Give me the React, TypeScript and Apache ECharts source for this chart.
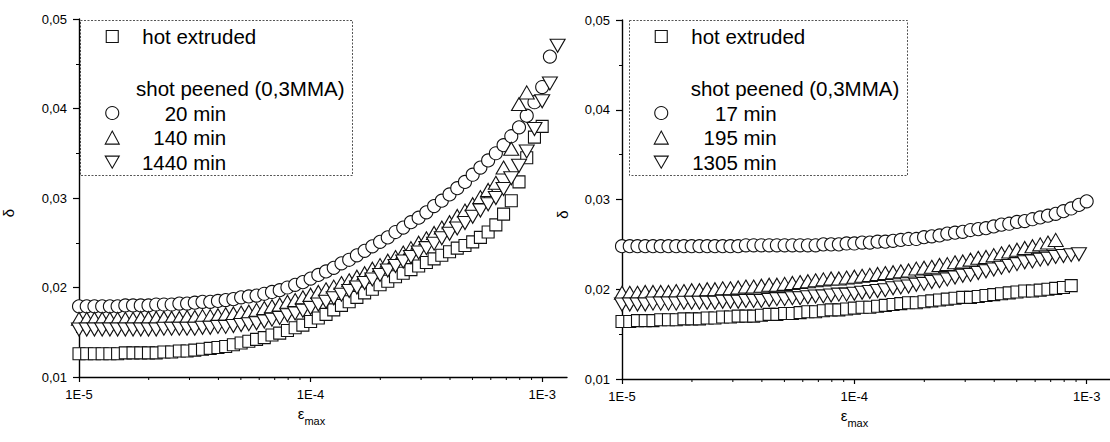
import React, { useEffect, useRef } from 'react';
import * as echarts from 'echarts';

// strain amplitude grid (log-spaced measurement steps)
const STRAIN = [
  1.0e-5, 1.0798e-5, 1.1659e-5, 1.2589e-5, 1.3594e-5, 1.4678e-5, 1.5849e-5, 1.7113e-5, 1.8478e-5, 1.9953e-5,
  2.1544e-5, 2.3263e-5, 2.5119e-5, 2.7123e-5, 2.9286e-5, 3.1623e-5, 3.4145e-5, 3.6869e-5, 3.9811e-5, 4.2987e-5,
  4.6416e-5, 5.0119e-5, 5.4117e-5, 5.8434e-5, 6.3096e-5, 6.8129e-5, 7.3564e-5, 7.9433e-5, 8.577e-5, 9.2612e-5,
  1.0e-4, 1.0798e-4, 1.1659e-4, 1.2589e-4, 1.3594e-4, 1.4678e-4, 1.5849e-4, 1.7113e-4, 1.8478e-4, 1.9953e-4,
  2.1544e-4, 2.3263e-4, 2.5119e-4, 2.7123e-4, 2.9286e-4, 3.1623e-4, 3.4145e-4, 3.6869e-4, 3.9811e-4, 4.2987e-4,
  4.6416e-4, 5.0119e-4, 5.4117e-4, 5.8434e-4, 6.3096e-4, 6.8129e-4, 7.3564e-4, 7.9433e-4, 8.577e-4, 9.2612e-4,
  1.0e-3, 1.0798e-3, 1.1659e-3,
];

// left panel
const LEFT_HOT = [
  0.0126, 0.0126, 0.0126, 0.0126, 0.0126, 0.0126, 0.0127, 0.0127, 0.0127, 0.0127,
  0.0127, 0.0128, 0.0128, 0.0129, 0.0129, 0.013, 0.0131, 0.0132, 0.0133, 0.0134,
  0.0136, 0.0138, 0.014, 0.0142, 0.0144, 0.0147, 0.0149, 0.0152, 0.0155, 0.0158,
  0.0162, 0.0166, 0.017, 0.0175, 0.018, 0.0184, 0.0189, 0.0194, 0.0198, 0.0203,
  0.0207, 0.0212, 0.0216, 0.022, 0.0224, 0.0228, 0.0232, 0.0236, 0.024, 0.0244,
  0.0247, 0.0251, 0.0256, 0.0262, 0.027, 0.0282, 0.0297, 0.0318, 0.0345, 0.0368,
  0.038,
];
const LEFT_20 = [
  0.0179, 0.0179, 0.0179, 0.0179, 0.0179, 0.0179, 0.018, 0.018, 0.018, 0.018,
  0.0181, 0.0181, 0.0181, 0.0182, 0.0182, 0.0183, 0.0184, 0.0184, 0.0185, 0.0186,
  0.0187, 0.0189, 0.019, 0.0191, 0.0193, 0.0195, 0.0197, 0.02, 0.0203, 0.0206,
  0.021, 0.0214, 0.0218, 0.0222, 0.0227, 0.0231, 0.0236, 0.0241, 0.0246, 0.0251,
  0.0256, 0.0262, 0.0267, 0.0273, 0.0278, 0.0284, 0.0291, 0.0297, 0.0304, 0.0311,
  0.0318, 0.0326, 0.0334, 0.0342, 0.035, 0.0359, 0.0369, 0.0379, 0.0392, 0.0407,
  0.0424, 0.0458,
];
const LEFT_140 = [
  0.0165, 0.0165, 0.0165, 0.0165, 0.0165, 0.0165, 0.0165, 0.0165, 0.0166, 0.0166,
  0.0166, 0.0166, 0.0166, 0.0166, 0.0167, 0.0167, 0.0168, 0.0168, 0.0169, 0.017,
  0.0171, 0.0172, 0.0173, 0.0175, 0.0177, 0.0179, 0.0181, 0.0184, 0.0186, 0.0189,
  0.0192, 0.0195, 0.0198, 0.0201, 0.0205, 0.0208, 0.0212, 0.0216, 0.0221, 0.0225,
  0.023, 0.0234, 0.0239, 0.0244, 0.025, 0.0255, 0.0261, 0.0267, 0.0273, 0.028,
  0.0286, 0.0293, 0.0301, 0.0309, 0.0317, 0.0334, 0.0355, 0.0405, 0.0418,
];
const LEFT_1440 = [
  0.0153, 0.0153, 0.0153, 0.0153, 0.0153, 0.0153, 0.0153, 0.0153, 0.0153, 0.0153,
  0.0153, 0.0154, 0.0154, 0.0154, 0.0154, 0.0154, 0.0155, 0.0155, 0.0156, 0.0156,
  0.0157, 0.0158, 0.0159, 0.016, 0.0162, 0.0164, 0.0166, 0.0169, 0.0171, 0.0174,
  0.0177, 0.0181, 0.0184, 0.0188, 0.0192, 0.0196, 0.02, 0.0205, 0.0209, 0.0214,
  0.0219, 0.0224, 0.0229, 0.0234, 0.0239, 0.0244, 0.0249, 0.0255, 0.026, 0.0266,
  0.0272, 0.0279, 0.0286, 0.0293, 0.03, 0.031, 0.0322, 0.0336, 0.0352, 0.0377,
  0.0408, 0.0428, 0.047,
];

// right panel
const RIGHT_HOT = [
  0.0164, 0.0164, 0.0165, 0.0165, 0.0165, 0.0166, 0.0166, 0.0166, 0.0167, 0.0167,
  0.0167, 0.0168, 0.0168, 0.0169, 0.0169, 0.017, 0.017, 0.017, 0.0171, 0.0172,
  0.0172, 0.0173, 0.0173, 0.0174, 0.0175, 0.0175, 0.0176, 0.0177, 0.0177, 0.0178,
  0.0179, 0.018, 0.018, 0.0181, 0.0182, 0.0183, 0.0184, 0.0185, 0.0185, 0.0186,
  0.0187, 0.0188, 0.0189, 0.019, 0.0191, 0.0191, 0.0192, 0.0193, 0.0194, 0.0195,
  0.0196, 0.0197, 0.0198, 0.0198, 0.0199, 0.02, 0.0201, 0.0202, 0.0204,
];
const RIGHT_17 = [
  0.0248, 0.0248, 0.0248, 0.0248, 0.0248, 0.0248, 0.0248, 0.0248, 0.0248, 0.0248,
  0.0248, 0.0248, 0.0248, 0.0248, 0.0248, 0.0248, 0.0249, 0.0249, 0.0249, 0.0249,
  0.0249, 0.0249, 0.0249, 0.0249, 0.0249, 0.0249, 0.025, 0.025, 0.025, 0.0251,
  0.0251, 0.0252, 0.0252, 0.0253, 0.0253, 0.0254, 0.0255, 0.0256, 0.0256, 0.0258,
  0.0259, 0.026, 0.0262, 0.0263, 0.0264, 0.0266, 0.0267, 0.0268, 0.027, 0.0272,
  0.0273, 0.0275, 0.0276, 0.0278, 0.028, 0.0282, 0.0284, 0.0287, 0.029, 0.0294,
  0.0298,
];
const RIGHT_195 = [
  0.0196, 0.0196, 0.0196, 0.0197, 0.0197, 0.0197, 0.0197, 0.0198, 0.0198, 0.0199,
  0.0199, 0.02, 0.02, 0.0201, 0.0201, 0.0202, 0.0203, 0.0203, 0.0204, 0.0205,
  0.0205, 0.0206, 0.0207, 0.0208, 0.0209, 0.021, 0.0211, 0.0212, 0.0212, 0.0213,
  0.0214, 0.0215, 0.0216, 0.0217, 0.0218, 0.0219, 0.022, 0.0221, 0.0223, 0.0224,
  0.0225, 0.0227, 0.0228, 0.023, 0.0231, 0.0233, 0.0235, 0.0236, 0.0238, 0.024,
  0.0242, 0.0244, 0.0246, 0.0248, 0.025, 0.0252, 0.0255,
];
const RIGHT_1305 = [
  0.0183, 0.0183, 0.0183, 0.0183, 0.0184, 0.0184, 0.0184, 0.0184, 0.0185, 0.0185,
  0.0185, 0.0185, 0.0185, 0.0186, 0.0186, 0.0186, 0.0187, 0.0187, 0.0187, 0.0188,
  0.0189, 0.0189, 0.019, 0.019, 0.0191, 0.0192, 0.0192, 0.0193, 0.0194, 0.0194,
  0.0195, 0.0196, 0.0197, 0.0198, 0.0199, 0.0201, 0.0202, 0.0203, 0.0205, 0.0206,
  0.0208, 0.0209, 0.0211, 0.0213, 0.0215, 0.0216, 0.0218, 0.022, 0.0222, 0.0224,
  0.0226, 0.0228, 0.023, 0.0231, 0.0233, 0.0234, 0.0236, 0.0237, 0.0238, 0.0239,
];

const LEFT_NAMES = ['hot extruded', '20 min', '140 min', '1440 min'];
const RIGHT_NAMES = ['hot extruded', '17 min', '195 min', '1305 min'];
const HEADER = 'shot peened (0,3MMA)';
const X_MINOR = [
  2e-5, 3e-5, 4e-5, 5e-5, 6e-5, 7e-5, 8e-5, 9e-5,
  2e-4, 3e-4, 4e-4, 5e-4, 6e-4, 7e-4, 8e-4, 9e-4,
];
const Y_MIN = 0.01;
const Y_MAX = 0.05;
const Y_STEP = 0.01;
const X_MIN = 1e-5;

const FONT = '"Liberation Sans", Arial, Helvetica, sans-serif';
const LEG_FONT = 20.5;
const DOWN_TRI = 'path://M0,0 L10,0 L5,8.66 Z';

const pairs = (ys: number[]) => ys.map((y, i) => [STRAIN[i], y]);

const markerStyle = { color: '#ffffff', borderColor: '#111111', borderWidth: 1.1, opacity: 1 };

function scatter(name: string, ys: number[], idx: number, kind: string) {
  const base: any = {
    type: 'scatter',
    name,
    xAxisIndex: idx,
    yAxisIndex: idx,
    data: pairs(ys),
    itemStyle: markerStyle,
    silent: true,
    emphasis: { disabled: true },
  };
  if (kind === 'sq') { base.symbol = 'rect'; base.symbolSize = 12; }
  if (kind === 'ci') { base.symbol = 'circle'; base.symbolSize = 13; }
  if (kind === 'up') { base.symbol = 'triangle'; base.symbolSize = [15, 13]; }
  if (kind === 'dn') { base.symbol = 'triangle'; base.symbolSize = [15, 13]; base.symbolRotate = 180; }
  return base;
}

function minorTicks(idx: number) {
  return {
    type: 'custom',
    xAxisIndex: idx,
    yAxisIndex: idx,
    silent: true,
    clip: false,
    data: X_MINOR.map((v) => [v, Y_MIN]),
    renderItem: (_p: any, api: any) => {
      const pt = api.coord([api.value(0), api.value(1)]);
      return {
        type: 'line',
        shape: { x1: pt[0], y1: pt[1], x2: pt[0], y2: pt[1] + 3 },
        style: { stroke: '#000', lineWidth: 1 },
      };
    },
  };
}

function xAxis(idx: number, max: number) {
  return {
    type: 'log',
    logBase: 10,
    gridIndex: idx,
    min: X_MIN,
    max,
    axisLine: { show: true, lineStyle: { color: '#000', width: 1.4 } },
    axisTick: { show: true, length: 5, lineStyle: { color: '#000', width: 1.2 } },
    axisLabel: {
      color: '#000',
      fontSize: 13,
      fontFamily: FONT,
      margin: 11,
      showMaxLabel: false,
      formatter: (v: number) => {
        const e = Math.log10(v);
        const r = Math.round(e);
        return Math.abs(e - r) < 1e-6 ? '1E' + r : '';
      },
    },
    splitLine: { show: false },
    name: '{e|ε}{s|max}',
    nameLocation: 'middle',
    nameGap: 14,
    nameTextStyle: {
      padding: [0, 23, 0, 0],
      rich: {
        e: { fontSize: 15, fontFamily: FONT, color: '#000' },
        s: { fontSize: 11, fontFamily: FONT, color: '#000', padding: [16, 0, 0, 0] },
      },
    },
  };
}

function yAxis(idx: number, gap: number) {
  return {
    type: 'value',
    gridIndex: idx,
    min: Y_MIN,
    max: Y_MAX,
    interval: Y_STEP,
    axisLine: { show: true, lineStyle: { color: '#000', width: 1.4 } },
    axisTick: { show: true, length: 6, lineStyle: { color: '#000', width: 1.2 } },
    minorTick: { show: true, splitNumber: 2, length: 3, lineStyle: { color: '#000', width: 1 } },
    axisLabel: {
      color: '#000',
      fontSize: 13,
      fontFamily: FONT,
      margin: 12,
      formatter: (v: number) => v.toFixed(2).replace('.', ','),
    },
    splitLine: { show: false },
    name: 'δ',
    nameLocation: 'middle',
    nameRotate: 90,
    nameGap: gap,
    nameTextStyle: { fontSize: 15, fontFamily: FONT, color: '#000', padding: [0, 30, 0, 0] },
  };
}

// markerX: centre of the legend markers; textX: where the label text starts; rightX: right edge of min labels
function legends(markerX: number, textX: number, rightX: number, names: string[]) {
  const common = {
    orient: 'vertical',
    padding: 0,
    selectedMode: false,
    itemStyle: { color: '#fff', borderColor: '#111', borderWidth: 1.1 },
  };
  const w0 = 12;
  const w1 = 14;
  const left0 = markerX - w0 / 2;
  const left1 = markerX - w1 / 2;
  const pad0 = textX - (left0 + w0 + 5);
  const width1 = rightX - (left1 + w1 + 5);
  return [
    {
      ...common,
      data: [names[0]],
      left: left0,
      top: 26,
      itemWidth: w0,
      itemHeight: 12,
      itemGap: 0,
      formatter: (n: string) => `{h|${n}}`,
      textStyle: {
        rich: { h: { fontSize: LEG_FONT, fontFamily: FONT, color: '#000', lineHeight: 25, padding: [0, 0, 0, pad0] } },
      },
    },
    {
      ...common,
      data: [
        { name: names[1], icon: 'circle' },
        { name: names[2], icon: 'triangle' },
        { name: names[3], icon: DOWN_TRI },
      ],
      left: left1,
      top: 102.5,
      itemWidth: w1,
      itemHeight: 13,
      itemGap: 3.6,
      formatter: (n: string) => `{r|${n}}`,
      textStyle: {
        rich: { r: { width: width1, align: 'right', fontSize: LEG_FONT, fontFamily: FONT, color: '#000', lineHeight: 25 } },
      },
    },
  ];
}

export default function App() {
  const ref = useRef<HTMLDivElement>(null);
  useEffect(() => {
    if (!ref.current) return;
    const chart = echarts.init(ref.current, undefined, { renderer: 'svg' });
    chart.setOption({
      animation: false,
      backgroundColor: '#ffffff',
      textStyle: { fontFamily: FONT },
      grid: [
        { left: 78, top: 19, width: 489, height: 358 },
        { left: 622, top: 20, width: 488, height: 359 },
      ],
      xAxis: [xAxis(0, 1.28e-3), xAxis(1, 1.26e-3)],
      yAxis: [yAxis(0, 63), yAxis(1, 52)],
      legend: [
        ...legends(111.7, 141.7, 225.7, LEFT_NAMES),
        ...legends(660.7, 690.7, 776, RIGHT_NAMES),
      ],
      graphic: [
        { type: 'rect', shape: { x: 80.5, y: 20.5, width: 272, height: 155 }, style: { fill: 'none', stroke: '#555', lineWidth: 1, lineDash: [2, 1.5] } },
        { type: 'rect', shape: { x: 629.5, y: 20.5, width: 278, height: 155 }, style: { fill: 'none', stroke: '#555', lineWidth: 1, lineDash: [2, 1.5] } },
        { type: 'text', x: 136, y: 88.3, style: { text: HEADER, fontSize: LEG_FONT, fontFamily: FONT, fill: '#000', verticalAlign: 'middle', align: 'left' } },
        { type: 'text', x: 690.7, y: 88.3, style: { text: HEADER, fontSize: LEG_FONT, fontFamily: FONT, fill: '#000', verticalAlign: 'middle', align: 'left' } },
      ],
      series: [
        scatter(LEFT_NAMES[0], LEFT_HOT, 0, 'sq'),
        scatter(LEFT_NAMES[1], LEFT_20, 0, 'ci'),
        scatter(LEFT_NAMES[2], LEFT_140, 0, 'up'),
        scatter(LEFT_NAMES[3], LEFT_1440, 0, 'dn'),
        scatter(RIGHT_NAMES[0], RIGHT_HOT, 1, 'sq'),
        scatter(RIGHT_NAMES[1], RIGHT_17, 1, 'ci'),
        scatter(RIGHT_NAMES[2], RIGHT_195, 1, 'up'),
        scatter(RIGHT_NAMES[3], RIGHT_1305, 1, 'dn'),
        minorTicks(0),
        minorTicks(1),
      ],
    });
    return () => chart.dispose();
  }, []);
  return (
    <div
      ref={ref}
      style={{ position: 'fixed', left: 0, top: 0, width: 1110, height: 442, background: '#fff' }}
    />
  );
}
